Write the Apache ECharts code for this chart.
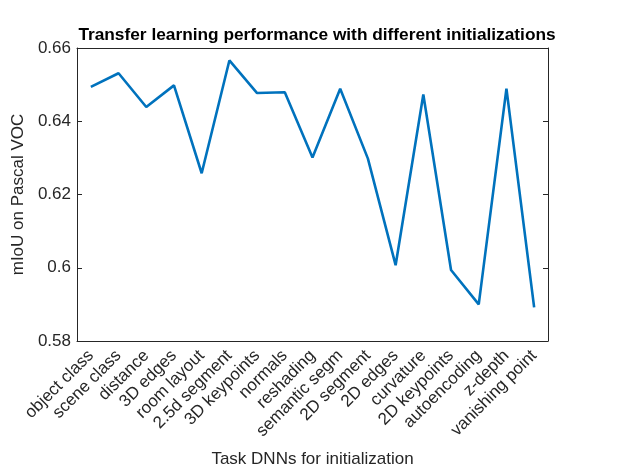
<!DOCTYPE html>
<html style="height: 100%">
<head>
  <meta charset="utf-8">
  <script type="text/javascript" src="https://cdn.jsdelivr.net/npm/echarts@6/dist/echarts.min.js"></script>
</head>
<body style="height: 100%; margin: 0; background: #fff">
  <div id="container" style="width: 621px; height: 473px"></div>
  <script type="text/javascript">
    var tasks = ['object class', 'scene class', 'distance', '3D edges', 'room layout',
      '2.5d segment', '3D keypoints', 'normals', 'reshading', 'semantic segm',
      '2D segment', '2D edges', 'curvature', '2D keypoints', 'autoencoding',
      'z-depth', 'vanishing point'];
    var miou = [0.6494, 0.6531, 0.6439, 0.6498, 0.6258, 0.6566, 0.6477, 0.6479, 0.6301,
      0.6489, 0.6298, 0.6007, 0.6473, 0.5994, 0.5900, 0.6489, 0.5892];
    var yTicks = [0.58, 0.6, 0.62, 0.64, 0.66];

    var dom = document.getElementById("container");
    var myChart = echarts.init(dom);
    var axisCol = '#262626';
    var font = "'Liberation Sans', Arial, sans-serif";

    var option = {
      animation: false,
      title: {
        text: 'Transfer learning performance with different initializations',
        left: 312,
        textAlign: 'center',
        top: 22,
        textStyle: { fontFamily: font, fontSize: 17.3, fontWeight: 'bold', color: '#000' }
      },
      grid: { left: 77, right: 73, top: 48, bottom: 130, containLabel: false },
      xAxis: [{
        type: 'category',
        data: tasks,
        boundaryGap: true,
        name: 'Task DNNs for initialization',
        nameLocation: 'middle',
        nameGap: 110,
        nameTextStyle: { fontFamily: font, fontSize: 17, color: axisCol },
        axisLine: { lineStyle: { color: axisCol, width: 1 } },
        axisTick: { inside: true, alignWithLabel: true, length: 5, lineStyle: { color: axisCol } },
        axisLabel: { rotate: 45, fontFamily: font, fontSize: 17, color: axisCol, margin: 12, interval: 0 },
        splitLine: { show: false }
      }, {
        type: 'category',
        data: tasks,
        position: 'top',
        boundaryGap: true,
        axisLine: { lineStyle: { color: axisCol, width: 1 } },
        axisTick: { inside: true, alignWithLabel: true, length: 5, lineStyle: { color: axisCol } },
        axisLabel: { show: false }
      }],
      yAxis: [{
        type: 'value',
        min: yTicks[0],
        max: yTicks[yTicks.length - 1],
        interval: 0.02,
        name: 'mIoU on Pascal VOC',
        nameLocation: 'middle',
        nameGap: 39,
        nameTextStyle: { fontFamily: font, fontSize: 17, color: axisCol },
        axisLine: { show: true, lineStyle: { color: axisCol, width: 1 } },
        axisTick: { show: true, inside: true, length: 5, lineStyle: { color: axisCol } },
        axisLabel: {
          fontFamily: font, fontSize: 17, color: axisCol, margin: 6,
          formatter: function (v) { return String(+v.toFixed(2)); }
        },
        splitLine: { show: false }
      }, {
        type: 'value',
        min: yTicks[0],
        max: yTicks[yTicks.length - 1],
        interval: 0.02,
        position: 'right',
        axisLine: { show: true, lineStyle: { color: axisCol, width: 1 } },
        axisTick: { show: true, inside: true, length: 5, lineStyle: { color: axisCol } },
        axisLabel: { show: false },
        splitLine: { show: false }
      }],
      series: [{
        type: 'line',
        data: miou,
        symbol: 'none',
        lineStyle: { color: '#0072BD', width: 2.6 }
      }]
    };
    myChart.setOption(option);
  </script>
</body>
</html>
